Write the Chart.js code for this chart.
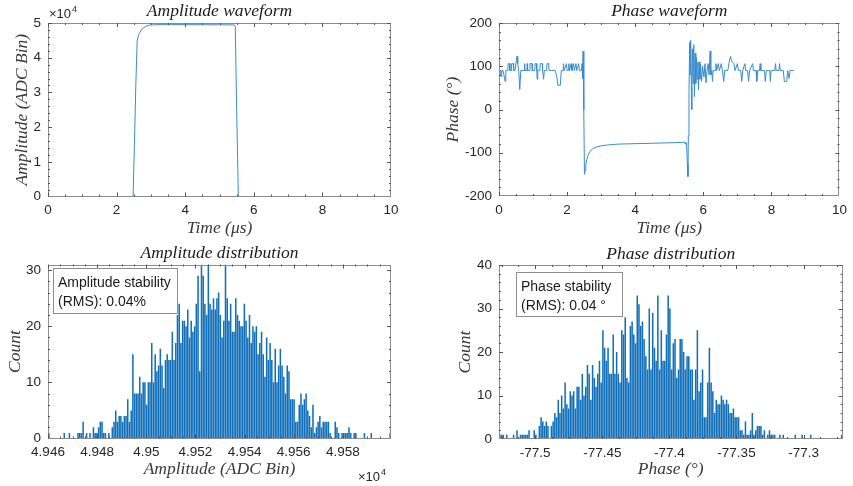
<!DOCTYPE html>
<html>
<head>
<meta charset="utf-8">
<script src="https://cdn.jsdelivr.net/npm/chart.js@4.4.0/dist/chart.umd.min.js"></script>
<style>
  html, body { margin: 0; padding: 0; background: #fff; }
  #page { position: relative; width: 853px; height: 486px; overflow: hidden; }
  .cell { position: absolute; }
</style>
</head>
<body>
<div id="page">
  <div class="cell" style="left:0;top:0;width:426px;height:243px"><canvas id="ampWave"></canvas></div>
  <div class="cell" style="left:426px;top:0;width:427px;height:243px"><canvas id="phaseWave"></canvas></div>
  <div class="cell" style="left:0;top:243px;width:426px;height:243px"><canvas id="ampHist"></canvas></div>
  <div class="cell" style="left:426px;top:243px;width:427px;height:243px"><canvas id="phaseHist"></canvas></div>
</div>
<script>
// amplitude waveform (time in us, ADC bins)
let ampWaveTime  = [0, 2.48, 2.52, 2.56, 2.6, 2.64, 2.68, 2.72, 2.78, 2.85, 2.92, 3.0, 3.1, 3.3, 3.6, 4.0, 4.5, 5.0, 5.43, 5.46, 5.5, 5.55, 6.0, 8.7];
let ampWaveValue = [0, 0, 15000, 32000, 45000, 46500, 47300, 48000, 48600, 49000, 49300, 49450, 49500, 49530, 49530, 49520, 49500, 49480, 49450, 49000, 25000, 0, 0, 0];

// phase waveform (time in us, degrees)
let phaseWaveTime = [0.00, 0.02, 0.05, 0.06, 0.08, 0.12, 0.14, 0.18, 0.20, 0.26, 0.27, 0.31, 0.32, 0.36, 0.37, 0.42, 0.43, 0.47, 0.50, 0.53,
  0.55, 0.58, 0.61, 0.64, 0.74, 0.75, 0.76, 0.82, 0.83, 0.84, 0.90, 0.91, 0.97, 0.98, 1.05, 1.06, 1.10, 1.11, 1.12, 1.14,
  1.20, 1.21, 1.27, 1.28, 1.31, 1.33, 1.40, 1.41, 1.46, 1.47, 1.55, 1.65, 1.70, 1.73, 1.80, 1.83, 1.88, 1.89, 1.91, 1.98,
  2.00, 2.04, 2.05, 2.07, 2.12, 2.14, 2.19, 2.21, 2.26, 2.28, 2.34, 2.36, 2.42, 2.44, 2.45, 2.46, 2.47, 2.49, 2.51, 2.53,
  2.55, 2.58, 2.62, 2.67, 2.75, 2.85, 3.00, 3.20, 3.50, 4.00, 4.50, 5.00, 5.40, 5.45, 5.47, 5.49, 5.51, 5.53, 5.55, 5.56,
  5.58, 5.60, 5.61, 5.63, 5.65, 5.66, 5.68, 5.70, 5.72, 5.74, 5.76, 5.78, 5.80, 5.82, 5.84, 5.86, 5.88, 5.90, 5.92, 5.95,
  5.98, 6.02, 6.05, 6.08, 6.11, 6.14, 6.17, 6.20, 6.22, 6.25, 6.27, 6.29, 6.36, 6.37, 6.39, 6.44, 6.47, 6.53, 6.56, 6.60,
  6.63, 6.72, 6.76, 6.80, 6.82, 6.85, 6.90, 6.93, 7.00, 7.03, 7.10, 7.13, 7.16, 7.22, 7.25, 7.30, 7.33, 7.36, 7.45, 7.47,
  7.55, 7.57, 7.60, 7.65, 7.67, 7.69, 7.80, 7.82, 7.85, 7.95, 7.97, 7.99, 8.10, 8.12, 8.14, 8.22, 8.24, 8.26, 8.35, 8.38,
  8.45, 8.48, 8.52, 8.55, 8.66];
let phaseWaveValue = [76, 90, 90, 76, 90, 90, 90, 65, 90, 90, 106, 106, 90, 90, 106, 106, 90, 90, 108, 123,
  106, 90, 46, 90, 90, 106, 90, 90, 106, 90, 90, 106, 106, 90, 90, 106, 106, 90, 70, 90,
  90, 106, 106, 90, 70, 90, 90, 106, 106, 90, 90, 90, 75, 56, 56, 90, 90, 106, 90, 106,
  90, 90, 106, 90, 106, 90, 106, 90, 106, 90, 106, 90, 90, 106, 90, 72, 135, 0, -150, -140,
  -128, -115, -105, -97, -91, -87, -84, -82, -80, -79, -78, -77, -76, -75, -80, -76, -80, -125, -155, -60,
  40, 155, 80, 160, 50, 0, 140, 60, 150, 30, 130, 60, 120, 70, 110, 45, 110, 70, 105, 65,
  100, 75, 106, 62, 90, 106, 80, 135, 80, 90, 65, 90, 90, 106, 90, 106, 90, 106, 90, 65,
  90, 90, 110, 123, 115, 110, 106, 90, 106, 90, 90, 65, 90, 106, 90, 90, 65, 90, 106, 90,
  90, 65, 90, 90, 106, 90, 90, 65, 90, 90, 65, 90, 90, 106, 90, 90, 106, 90, 90, 65,
  65, 90, 72, 90, 90];

// amplitude histogram: 200 bins
let ampHistStart = 49460;
let ampHistBinWidth = 0.698;
let ampHistCounts = [
  1, 0, 0, 0, 0, 0, 0, 0, 0, 1,   0, 0, 1, 0, 0, 0, 0, 1, 1, 1,
  3, 0, 1, 0, 1, 0, 2, 1, 1, 2,   3, 3, 1, 1, 0, 1, 0, 2, 3, 5,
  3, 4, 4, 3, 4, 4, 7, 3, 5, 15,  8, 8, 8, 11, 8, 10, 10, 6, 10, 10,
  17, 10, 15, 12, 13, 16, 13, 9, 14, 15,  14, 14, 19, 14, 17, 22, 24, 17, 21, 21,
  20, 23, 18, 21, 19, 20, 24, 29, 12, 31,  29, 24, 22, 31, 24, 23, 25, 23, 25, 26,
  22, 18, 21, 31, 25, 21, 24, 19, 19, 25,  22, 21, 20, 20, 24, 21, 18, 22, 17, 20,
  19, 20, 15, 17, 19, 15, 11, 18, 14, 17,  14, 10, 16, 10, 13, 16, 13, 11, 8, 13,
  12, 7, 7, 7, 3, 3, 6, 8, 6, 7,   8, 5, 4, 2, 6, 1, 2, 3, 4, 2,
  3, 3, 3, 3, 1, 0, 0, 3, 2, 1,   0, 1, 1, 1, 1, 2, 1, 0, 1, 1,
  0, 0, 0, 0, 1, 0, 0, 0, 1, 0,   0, 0, 0, 0, 0, 0, 0, 0, 0, 1
];
let ampHistTicks = [49460, 49480, 49500, 49520, 49540, 49560, 49580];

// phase histogram: 200 bins
let phaseHistStart = -77.527;
let phaseHistBinWidth = 0.00128;
let phaseHistCounts = [
  1, 1, 1, 0, 1, 0, 0, 0, 1, 0,   2, 0, 1, 1, 1, 1, 1, 2, 0, 0,
  2, 1, 0, 3, 5, 4, 3, 4, 3, 0,   3, 4, 6, 5, 9, 6, 10, 7, 13, 8,
  7, 11, 10, 11, 7, 12, 12, 9, 15, 10,   12, 17, 15, 9, 17, 14, 12, 15, 18, 13,
  25, 21, 18, 21, 15, 15, 24, 15, 20, 15,   13, 25, 24, 28, 14, 13, 26, 27, 24, 22,
  33, 31, 26, 27, 23, 19, 16, 30, 16, 29,   21, 18, 33, 16, 25, 18, 18, 24, 33, 30,
  16, 22, 23, 14, 16, 23, 23, 20, 16, 19,   19, 16, 16, 9, 16, 25, 11, 13, 16, 5,
  5, 13, 21, 13, 11, 6, 9, 8, 8, 10,   9, 8, 9, 8, 6, 6, 7, 5, 5, 5,
  2, 2, 1, 4, 1, 1, 2, 6, 1, 2,   3, 3, 3, 1, 2, 0, 1, 2, 1, 1,
  1, 0, 0, 1, 0, 1, 0, 0, 0, 0,   0, 0, 1, 0, 0, 0, 1, 0, 0, 0,
  0, 1, 0, 0, 0, 0, 0, 0, 0, 0,   0, 0, 0, 0, 0, 0, 0, 0, 0, 1
];
let phaseHistTicks = [-77.5, -77.45, -77.4, -77.35, -77.3];

const tickFont = { family: '"Liberation Sans", Arial, sans-serif', size: 13.5 };
const tickColor = '#262626';
const lineColor = '#3a8ccb';
const barColor = '#1270ba';

function toPoints(xs, ys) {
    let pts = [];
    for (let i = 0; i < xs.length; i++) {
        pts.push({ x: xs[i], y: ys[i] });
    }
    return pts;
}

function histPoints(start, width, counts) {
    let pts = [];
    for (let i = 0; i < counts.length; i++) {
        pts.push({ x: start + width * (i + 0.5), y: counts[i] });
    }
    return pts;
}

function fmt(v) {
    return String(parseFloat(v.toFixed(4)));
}

// draws the MATLAB-like frame, inward ticks, titles and notes
function decoPlugin(d) {
    return {
        id: 'deco',
        afterDraw(chart) {
            const ctx = chart.ctx;
            const a = chart.chartArea;
            const xs = chart.scales.x, ys = chart.scales.y;
            ctx.save();

            // frame
            ctx.strokeStyle = '#8c8c8c';
            ctx.lineWidth = 1;
            ctx.strokeRect(Math.round(a.left) + 0.5, Math.round(a.top) + 0.5,
                Math.round(a.right - a.left) - 1, Math.round(a.bottom - a.top) - 1);

            // ticks
            ctx.strokeStyle = '#555';
            ctx.beginPath();
            let xMajor = d.xTicks, yMajor = d.yTicks;
            for (let v = d.xMinorStart; v <= xs.max + 1e-9; v += d.xMinor) {
                let px = Math.round(xs.getPixelForValue(v)) + 0.5;
                if (px < a.left || px > a.right) continue;
                let major = xMajor.some(t => Math.abs(t - v) < d.xMinor / 10);
                let len = major ? 4 : 2;
                ctx.moveTo(px, a.bottom); ctx.lineTo(px, a.bottom - len);
                ctx.moveTo(px, a.top); ctx.lineTo(px, a.top + len);
            }
            for (let v = d.yMinorStart; v <= ys.max + 1e-9; v += d.yMinor) {
                let py = Math.round(ys.getPixelForValue(v)) + 0.5;
                if (py < a.top || py > a.bottom) continue;
                let major = yMajor.some(t => Math.abs(t - v) < d.yMinor / 10);
                let len = major ? 4 : 2;
                ctx.moveTo(a.left, py); ctx.lineTo(a.left + len, py);
                ctx.moveTo(a.right, py); ctx.lineTo(a.right - len, py);
            }
            ctx.stroke();

            // title
            ctx.fillStyle = '#1a1a1a';
            ctx.font = 'italic 17.5px "Liberation Serif", serif';
            ctx.textAlign = 'center';
            ctx.textBaseline = 'middle';
            ctx.fillText(d.title, (a.left + a.right) / 2, d.titleY);

            // axis titles
            ctx.fillStyle = '#3a3a3a';
            ctx.font = 'italic 17.5px "Liberation Serif", serif';
            ctx.fillText(d.xTitle, (a.left + a.right) / 2, d.xTitleY);
            ctx.save();
            ctx.translate(d.yTitleX, (a.top + a.bottom) / 2);
            ctx.rotate(-Math.PI / 2);
            ctx.fillText(d.yTitle, 0, 0);
            ctx.restore();

            // exponent label
            if (d.expo) {
                ctx.fillStyle = '#262626';
                ctx.textAlign = 'left';
                ctx.textBaseline = 'alphabetic';
                ctx.font = '13px "Liberation Sans", Arial, sans-serif';
                ctx.fillText('\u00d710', d.expo.x, d.expo.y);
                let w = ctx.measureText('\u00d710').width;
                ctx.font = '9px "Liberation Sans", Arial, sans-serif';
                ctx.fillText('4', d.expo.x + w + 1, d.expo.y - 6);
            }

            // note box
            if (d.note) {
                let n = d.note;
                ctx.fillStyle = '#fff';
                ctx.fillRect(n.x, n.y, n.w, n.h);
                ctx.strokeStyle = '#8c8c8c';
                ctx.strokeRect(n.x + 0.5, n.y + 0.5, n.w, n.h);
                ctx.fillStyle = '#1a1a1a';
                ctx.font = '14px "Liberation Sans", Arial, sans-serif';
                ctx.textAlign = 'left';
                ctx.textBaseline = 'middle';
                ctx.fillText(n.lines[0], n.x + 5, n.y + 15);
                ctx.fillText(n.lines[1], n.x + 5, n.y + 34);
            }
            ctx.restore();
        }
    };
}

function makeChart(id, type, datasets, sc, pad, d) {
    return new Chart(document.getElementById(id), {
        type: type,
        data: { datasets: datasets },
        options: {
            responsive: true,
            maintainAspectRatio: false,
            animation: false,
            layout: { padding: pad },
            plugins: { legend: { display: false }, tooltip: { enabled: false }, title: { display: false } },
            scales: {
                x: {
                    type: 'linear', min: sc.xMin, max: sc.xMax, offset: false,
                    grid: { display: false, drawTicks: false },
                    border: { display: false },
                    ticks: { padding: 6, font: tickFont, color: tickColor, maxRotation: 0, autoSkip: false, callback: sc.xFmt },
                    afterBuildTicks: s => { s.ticks = d.xTicks.map(v => ({ value: v })); },
                    afterFit: s => { s.height = sc.xH; }
                },
                y: {
                    type: 'linear', min: sc.yMin, max: sc.yMax,
                    grid: { display: false, drawTicks: false },
                    border: { display: false },
                    ticks: { padding: 7, font: tickFont, color: tickColor, autoSkip: false, callback: sc.yFmt },
                    afterBuildTicks: s => { s.ticks = d.yTicks.map(v => ({ value: v })); },
                    afterFit: s => { s.width = sc.yW; }
                }
            }
        },
        plugins: [decoPlugin(d)]
    });
}

function lineSet(pts) {
    return { data: pts, borderColor: lineColor, borderWidth: 1, pointRadius: 0, tension: 0, fill: false };
}

function barSet(pts) {
    return { data: pts, backgroundColor: barColor, borderWidth: 0, barPercentage: 1, categoryPercentage: 0.9 };
}

makeChart('ampWave', 'line', [lineSet(toPoints(ampWaveTime, ampWaveValue))],
    { xMin: 0, xMax: 10, yMin: 0, yMax: 50000, xH: 46.5, yW: 48,
      xFmt: v => fmt(v), yFmt: v => fmt(v / 10000) },
    { top: 23, right: 35, left: 0, bottom: 0 },
    { title: 'Amplitude waveform', titleY: 11, xTitle: 'Time (\u03bcs)', xTitleY: 228, yTitle: 'Amplitude (ADC Bin)', yTitleX: 22,
      xTicks: [0, 2, 4, 6, 8, 10], yTicks: [0, 10000, 20000, 30000, 40000, 50000],
      xMinorStart: 0, xMinor: 0.5, yMinorStart: 0, yMinor: 2000, expo: { x: 49, y: 18 } });

makeChart('phaseWave', 'line', [lineSet(toPoints(phaseWaveTime, phaseWaveValue))],
    { xMin: 0, xMax: 10, yMin: -200, yMax: 200, xH: 47, yW: 73,
      xFmt: v => fmt(v), yFmt: v => fmt(v) },
    { top: 23, right: 10, left: 0, bottom: 0 },
    { title: 'Phase waveform', titleY: 11, xTitle: 'Time (\u03bcs)', xTitleY: 228, yTitle: 'Phase (\u00b0)', yTitleX: 27,
      xTicks: [0, 2, 4, 6, 8, 10], yTicks: [-200, -100, 0, 100, 200],
      xMinorStart: 0, xMinor: 0.5, yMinorStart: -200, yMinor: 20 });

makeChart('ampHist', 'bar', [barSet(histPoints(ampHistStart, ampHistBinWidth, ampHistCounts))],
    { xMin: 49460, xMax: 49599.6, yMin: 0, yMax: 31, xH: 47.5, yW: 48,
      xFmt: v => fmt(v / 10000), yFmt: v => fmt(v) },
    { top: 21.5, right: 35, left: 0, bottom: 0 },
    { title: 'Amplitude distribution', titleY: 10, xTitle: 'Amplitude (ADC Bin)', xTitleY: 226, yTitle: 'Count', yTitleX: 15,
      xTicks: ampHistTicks, yTicks: [0, 10, 20, 30],
      xMinorStart: 49460, xMinor: 5, yMinorStart: 0, yMinor: 2, expo: { x: 358, y: 238 },
      note: { x: 53, y: 25, w: 124, h: 45, lines: ['Amplitude stability', '(RMS): 0.04%'] } });

makeChart('phaseHist', 'bar', [barSet(histPoints(phaseHistStart, phaseHistBinWidth, phaseHistCounts))],
    { xMin: -77.527, xMax: -77.271, yMin: 0, yMax: 40, xH: 47, yW: 73,
      xFmt: v => fmt(v), yFmt: v => fmt(v) },
    { top: 22, right: 10.5, left: 0, bottom: 0 },
    { title: 'Phase distribution', titleY: 11, xTitle: 'Phase (\u00b0)', xTitleY: 226, yTitle: 'Count', yTitleX: 39,
      xTicks: phaseHistTicks, yTicks: [0, 10, 20, 30, 40],
      xMinorStart: -77.525, xMinor: 0.0125, yMinorStart: 0, yMinor: 2,
      note: { x: 90, y: 29, w: 106, h: 44, lines: ['Phase stability', '(RMS): 0.04 \u00b0'] } });
</script>
</body>
</html>
